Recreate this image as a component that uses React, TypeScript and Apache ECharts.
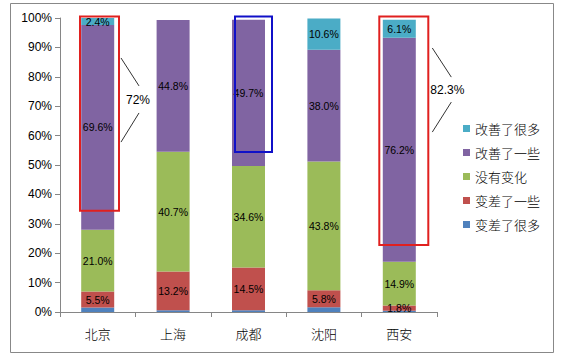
import React, { useEffect, useRef } from "react";
import * as echarts from "echarts";

const cities = ["北京", "上海", "成都", "沈阳", "西安"];
const seriesNames = ["变差了很多", "变差了一些", "没有变化", "改善了一些", "改善了很多"];
const muchWorse = [1.5, 0.6, 0.6, 1.6, 0.4];
const someWorse = [5.5, 13.2, 14.5, 5.8, 1.8];
const noChange = [21.0, 40.7, 34.6, 43.8, 14.9];
const someBetter = [69.6, 44.8, 49.7, 38.0, 76.2];
const muchBetter = [2.4, 0, 0, 10.6, 6.1];
const yTicks = [0, 10, 20, 30, 40, 50, 60, 70, 80, 90, 100];

// annotation boxes: category, lower value, upper value
const boxCats = ["北京", "成都", "西安"];
const boxLow = [34.4, 54.4, 22.8];
const boxHigh = [100, 100, 100];
const calloutCats = ["北京", "西安"];
const calloutTexts = ["72%", "82.3%"];

const colors = ["#4F81BD", "#C0504D", "#9BBB59", "#8064A2", "#4BACC6"];

export default function App() {
  const ref = useRef<HTMLDivElement>(null);
  useEffect(() => {
    const el = ref.current!;
    const chart = echarts.init(el, null, { renderer: "svg" });
    const allData = [muchWorse, someWorse, noChange, someBetter, muchBetter];
    const labelFont = "'Liberation Sans', Arial, sans-serif";
    const cjk = "'Noto Sans CJK SC', sans-serif";
    const option: any = {
      animation: false,
      color: colors,
      grid: { left: 60, right: 131, top: 18, bottom: 47 },
      legend: {
        orient: "vertical",
        left: 458,
        top: 117,
        itemWidth: 7,
        itemHeight: 7,
        itemGap: 11,
        icon: "rect",
        data: seriesNames.slice().reverse(),
        textStyle: { fontSize: 13, color: "#000", fontFamily: cjk, fontWeight: 300 },
      },
      xAxis: {
        type: "category",
        data: cities,
        axisLine: { lineStyle: { color: "#868686" } },
        axisTick: { show: true, length: 5, lineStyle: { color: "#868686" } },
        axisLabel: { fontSize: 13, color: "#000", fontFamily: cjk, fontWeight: 300, margin: 15 },
      },
      yAxis: {
        type: "value",
        min: yTicks[0],
        max: yTicks[yTicks.length - 1],
        interval: 10,
        axisLine: { show: true, lineStyle: { color: "#868686" } },
        axisTick: { show: true, length: 5, lineStyle: { color: "#868686" } },
        splitLine: { show: false },
        axisLabel: {
          formatter: "{value}%",
          fontSize: 12,
          color: "#000",
          fontFamily: labelFont,
          margin: 8,
        },
      },
      series: seriesNames.map((name, i) => ({
        name,
        type: "bar",
        stack: "total",
        barWidth: 33,
        data: allData[i],
        itemStyle: { color: colors[i] },
        label: {
          show: i !== 0,
          position: "inside",
          fontSize: 10.5,
          color: "#000",
          fontFamily: labelFont,
          formatter: (p: any) => (p.value > 0 ? p.value.toFixed(1) + "%" : ""),
        },
      })),
    };
    chart.setOption(option);

    const toPx = (cat: string, v: number) =>
      chart.convertToPixel({ gridIndex: 0 } as any, [cat, v]) as number[];

    const boxStyle = [
      { l: -17.7, r: 21.3, color: "#E0201F" },
      { l: -13.5, r: 23.5, color: "#1010C8" },
      { l: -20, r: 29, color: "#E0201F" },
    ];
    const graphics: any[] = [
      {
        type: "rect",
        shape: { x: 10.5, y: 3.5, width: 543, height: 349 },
        style: { fill: "none", stroke: "#888", lineWidth: 1 },
        silent: true,
      },
    ];
    boxCats.forEach((c, i) => {
      const top = toPx(c, boxHigh[i]);
      const bot = toPx(c, boxLow[i]);
      const s = boxStyle[i];
      graphics.push({
        type: "rect",
        shape: {
          x: top[0] + s.l,
          y: top[1] - 1.5,
          width: s.r - s.l,
          height: bot[1] - top[1] + 1.5,
        },
        style: { fill: "none", stroke: s.color, lineWidth: 2 },
        z: 100,
      });
    });
    const callStyle = [
      { x0: 23.3, x1: 41.3, y: [86.4, 76.9, 67.7, 57.8], ty: 72.1, tx: 40.3 },
      { x0: 33, x1: 52, y: [89.8, 79.9, 71.4, 61.2], ty: 75.5, tx: 48 },
    ];
    calloutCats.forEach((c, i) => {
      const s = callStyle[i];
      const cx = toPx(c, 0)[0];
      const py = (v: number) => toPx(c, v)[1];
      graphics.push({
        type: "line",
        shape: { x1: cx + s.x0, y1: py(s.y[0]), x2: cx + s.x1, y2: py(s.y[1]) },
        style: { stroke: "#333", lineWidth: 1 },
        z: 100,
      });
      graphics.push({
        type: "line",
        shape: { x1: cx + s.x1, y1: py(s.y[2]), x2: cx + s.x0, y2: py(s.y[3]) },
        style: { stroke: "#333", lineWidth: 1 },
        z: 100,
      });
      graphics.push({
        type: "text",
        x: cx + s.tx,
        y: py(s.ty),
        style: {
          text: calloutTexts[i],
          fontSize: 12,
          fontFamily: labelFont,
          fill: "#000",
          align: "center",
          verticalAlign: "middle",
        },
        z: 100,
      });
    });
    chart.setOption({ graphic: graphics });
    return () => chart.dispose();
  }, []);
  return (
    <div
      ref={ref}
      style={{ position: "absolute", left: 0, top: 0, width: 568, height: 359, background: "#fff" }}
    />
  );
}
